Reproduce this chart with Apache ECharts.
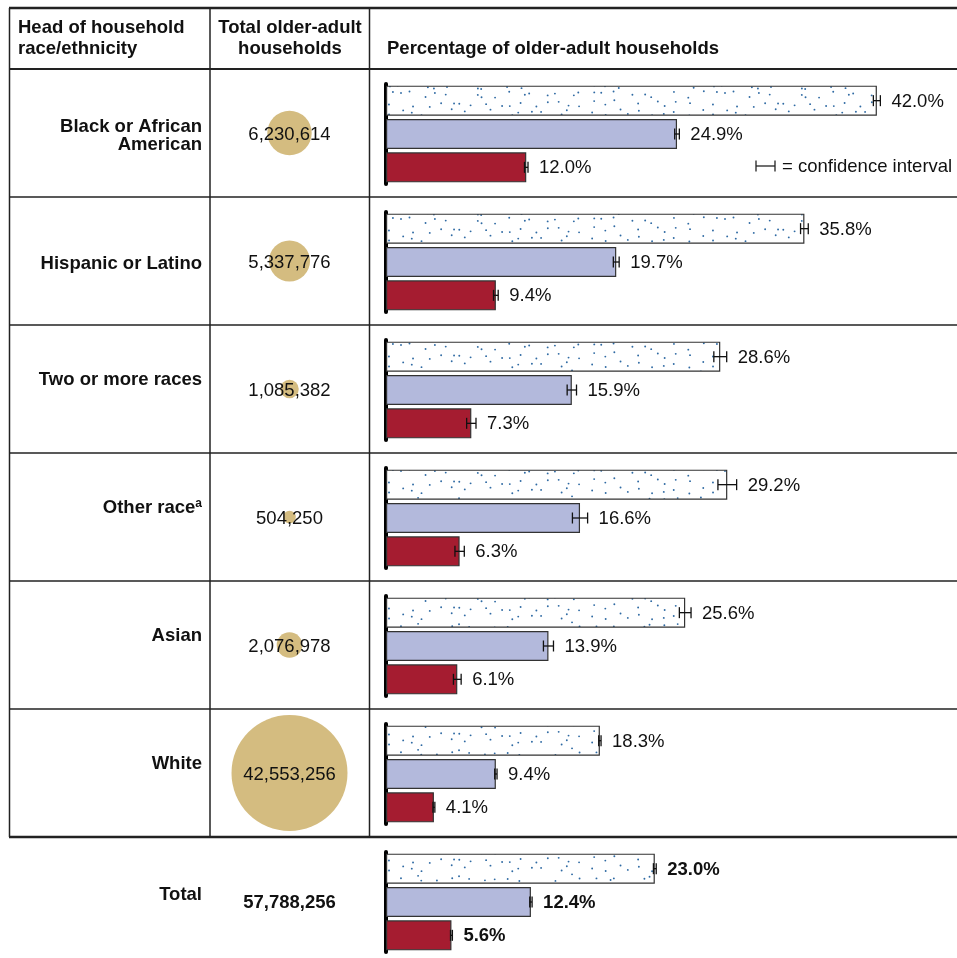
<!DOCTYPE html>
<html><head><meta charset="utf-8">
<script src="https://cdn.jsdelivr.net/npm/echarts@6/dist/echarts.min.js"></script>
<style>html,body{margin:0;padding:0;background:#fff}#c{width:957px;height:958px}</style>
</head><body><div id="c"></div>
<script>
// ---------- data ----------
const categories = ['Black or African American','Hispanic or Latino','Two or more races','Other race','Asian','White','Total'];
const footnotes  = ['', '', '', 'a', '', '', ''];
const households = [6230614, 5337776, 1085382, 504250, 2076978, 42553256, 57788256];
const pctDotted  = [42.0, 35.8, 28.6, 29.2, 25.6, 18.3, 23.0];
const pctLav     = [24.9, 19.7, 15.9, 16.6, 13.9, 9.4, 12.4];
const pctRed     = [12.0, 9.4, 7.3, 6.3, 6.1, 4.1, 5.6];
const ciDotted   = [0.30, 0.33, 0.55, 0.80, 0.50, 0.10, 0.12];
const ciLav      = [0.20, 0.25, 0.40, 0.65, 0.43, 0.10, 0.10];
const ciRed      = [0.15, 0.20, 0.40, 0.40, 0.33, 0.08, 0.08];

// ---------- layout / style ----------
const FONT = '"Liberation Sans", Arial, sans-serif';
const FS = 18.5;
const TXT = '#111';
const rowTops = [69, 197, 325, 453, 581, 709, 837];
const labelDy = [3, 3, -9, -9, -9, -9, -6];   // vertical nudge of row labels (px, + = down)
const totalIdx = categories.length - 1;

// stipple texture for the dotted bars (decorative fill, not data)
function makeDots() {
  const c = document.createElement('canvas');
  const cw = 12, ch = 9, nxC = 27, nyC = 7;
  c.width = cw * nxC; c.height = ch * nyC;
  const g = c.getContext('2d');
  g.fillStyle = '#fff'; g.fillRect(0, 0, c.width, c.height);
  g.fillStyle = '#2f6aa3';
  let s = 917331;
  const nx = () => { s = (s * 1103515245 + 12345) % 2147483648; return s / 2147483648; };
  for (let j = 0; j < nyC; j++) for (let i = 0; i < nxC; i++) {
    if (nx() < 0.12) continue;
    const x = i * cw + 1 + nx() * (cw - 2), y = j * ch + 1 + nx() * (ch - 2);
    g.beginPath(); g.arc(x, y, 0.95, 0, Math.PI * 2); g.fill();
  }
  return c;
}
const dotPattern = { image: makeDots(), repeat: 'repeat' };

const grids = [], xAxes = [], yAxes = [], series = [];
const XMAX = 48, XLEFT = 386, XWIDTH = 561;

for (let r = 0; r < categories.length; r++) {
  const bold = r === totalIdx;
  grids.push({ left: XLEFT, top: rowTops[r] + 15, width: XWIDTH, height: 100, outerBoundsMode: 'none' });
  xAxes.push({ gridIndex: r, type: 'value', min: 0, max: XMAX, show: false });
  yAxes.push({ gridIndex: r, type: 'category', data: ['dotted', 'lavender', 'red'], inverse: true,
    axisLine: { show: true, lineStyle: { color: '#000', width: 4 } },
    axisTick: { show: false }, axisLabel: { show: false }, splitLine: { show: false } });
  series.push({
    type: 'bar', xAxisIndex: r, yAxisIndex: r, barWidth: 30, silent: true, animation: false,
    itemStyle: { borderColor: '#333', borderWidth: 1.2 },
    data: [
      { value: pctDotted[r], itemStyle: { color: dotPattern } },
      { value: pctLav[r], itemStyle: { color: '#b3b9dc' } },
      { value: pctRed[r], itemStyle: { color: '#a51c30' } }
    ]
  });
  series.push({
    type: 'custom', xAxisIndex: r, yAxisIndex: r, silent: true, animation: false, z: 5,
    encode: { x: [0, 1], y: 2 },
    data: [
      [pctDotted[r] - ciDotted[r], pctDotted[r] + ciDotted[r], 0, pctDotted[r]],
      [pctLav[r] - ciLav[r], pctLav[r] + ciLav[r], 1, pctLav[r]],
      [pctRed[r] - ciRed[r], pctRed[r] + ciRed[r], 2, pctRed[r]]
    ],
    renderItem: function (params, api) {
      const lo = api.coord([api.value(0), api.value(2)]);
      const hi = api.coord([api.value(1), api.value(2)]);
      const y = lo[1], h = 11;
      const st = { stroke: '#111', lineWidth: 1.3 };
      return { type: 'group', children: [
        { type: 'line', shape: { x1: lo[0], y1: y, x2: hi[0], y2: y }, style: st },
        { type: 'line', shape: { x1: lo[0], y1: y - h / 2, x2: lo[0], y2: y + h / 2 }, style: st },
        { type: 'line', shape: { x1: hi[0], y1: y - h / 2, x2: hi[0], y2: y + h / 2 }, style: st },
        { type: 'text', x: hi[0] + 11, y: y + 1, style: {
          text: api.value(3).toFixed(1) + '%', fontFamily: FONT, fontSize: FS,
          fontWeight: bold ? 'bold' : 'normal', fill: TXT, align: 'left', verticalAlign: 'middle' } }
      ] };
    }
  });
}

// bubble column
const gi = categories.length;
const K = 116 / Math.sqrt(households[5]);
const rich = {
  b: { fontFamily: FONT, fontSize: FS, fontWeight: 'bold', color: TXT, lineHeight: 18 },
  s: { fontFamily: FONT, fontSize: 12, fontWeight: 'bold', color: TXT, verticalAlign: 'top', padding: [0, 0, 9, 0] }
};
labelDy.forEach(d => { rich['sp' + Math.abs(d)] = { fontSize: 1, lineHeight: Math.abs(d) * 2 }; });
grids.push({ left: 210, top: 69, width: 159, height: 128 * categories.length, outerBoundsMode: 'none' });
xAxes.push({ gridIndex: gi, type: 'value', min: -1, max: 1, show: false });
yAxes.push({ gridIndex: gi, type: 'category', data: categories, inverse: true,
  axisLine: { show: false }, axisTick: { show: false }, splitLine: { show: false },
  axisLabel: {
    margin: 8, align: 'right',
    formatter: function (value, idx) {
      let s;
      if (value.indexOf('African ') >= 0) {
        s = value.replace('African ', 'African\n').split('\n').map(t => '{b|' + t + '}').join('\n');
      } else {
        s = '{b|' + value + '}' + (footnotes[idx] ? '{s|' + footnotes[idx] + '}' : '');
      }
      const d = labelDy[idx];
      if (d < 0) s += '\n{sp' + (-d) + '| }';
      else if (d > 0) s = '{sp' + d + '| }\n' + s;
      return s;
    },
    rich: rich
  } });
series.push({
  type: 'scatter', xAxisIndex: gi, yAxisIndex: gi, silent: true, animation: false,
  data: households.map((v, i) => {
    const item = { value: [0, i, v] };
    if (i === totalIdx) {
      item.symbolSize = 0;
      item.itemStyle = { color: 'rgba(0,0,0,0)' };
      item.label = { fontWeight: 'bold' };
    }
    return item;
  }),
  symbolSize: function (val) { return K * Math.sqrt(val[2]); },
  itemStyle: { color: '#d4bc80', opacity: 1 },
  label: { show: true, position: 'inside', offset: [0, 2], fontFamily: FONT, fontSize: FS, color: TXT,
    formatter: p => p.value[2].toLocaleString('en-US') }
});

// table rules, header, legend
const ln = (x1, y1, x2, y2, w) => ({ type: 'line', silent: true, z: 100,
  shape: { x1, y1, x2, y2 }, style: { stroke: '#222', lineWidth: w } });
const graphic = [
  ln(9, 8, 957, 8, 2.5), ln(9, 69, 957, 69, 2.2),
  ln(9, 197, 957, 197, 1.5), ln(9, 325, 957, 325, 1.5), ln(9, 453, 957, 453, 1.5),
  ln(9, 581, 957, 581, 1.5), ln(9, 709, 957, 709, 1.5), ln(9, 837, 957, 837, 2.5),
  ln(9.5, 8, 9.5, 837, 1.5), ln(210, 8, 210, 837, 1.5), ln(369.5, 8, 369.5, 837, 1.5),
  { type: 'text', x: 18, y: 38.5, style: { text: 'Head of household\nrace/ethnicity', fontFamily: FONT, fontSize: FS,
    fontWeight: 'bold', lineHeight: 21, fill: TXT, align: 'left', verticalAlign: 'middle' } },
  { type: 'text', x: 290, y: 38.5, style: { text: 'Total older-adult\nhouseholds', fontFamily: FONT, fontSize: FS,
    fontWeight: 'bold', lineHeight: 21, fill: TXT, align: 'center', verticalAlign: 'middle' } },
  { type: 'text', x: 387, y: 49, style: { text: 'Percentage of older-adult households', fontFamily: FONT, fontSize: FS,
    fontWeight: 'bold', fill: TXT, align: 'left', verticalAlign: 'middle' } },
  ln(756, 166, 775, 166, 1.3), ln(756, 160.5, 756, 171.5, 1.3), ln(775, 160.5, 775, 171.5, 1.3),
  { type: 'text', x: 782, y: 167, style: { text: '= confidence interval', fontFamily: FONT, fontSize: FS,
    fill: TXT, align: 'left', verticalAlign: 'middle' } }
];

const chart = echarts.init(document.getElementById('c'), null, { renderer: 'canvas' });
chart.setOption({
  animation: false,
  backgroundColor: '#fff',
  grid: grids, xAxis: xAxes, yAxis: yAxes, series: series, graphic: graphic
});
</script></body></html>
